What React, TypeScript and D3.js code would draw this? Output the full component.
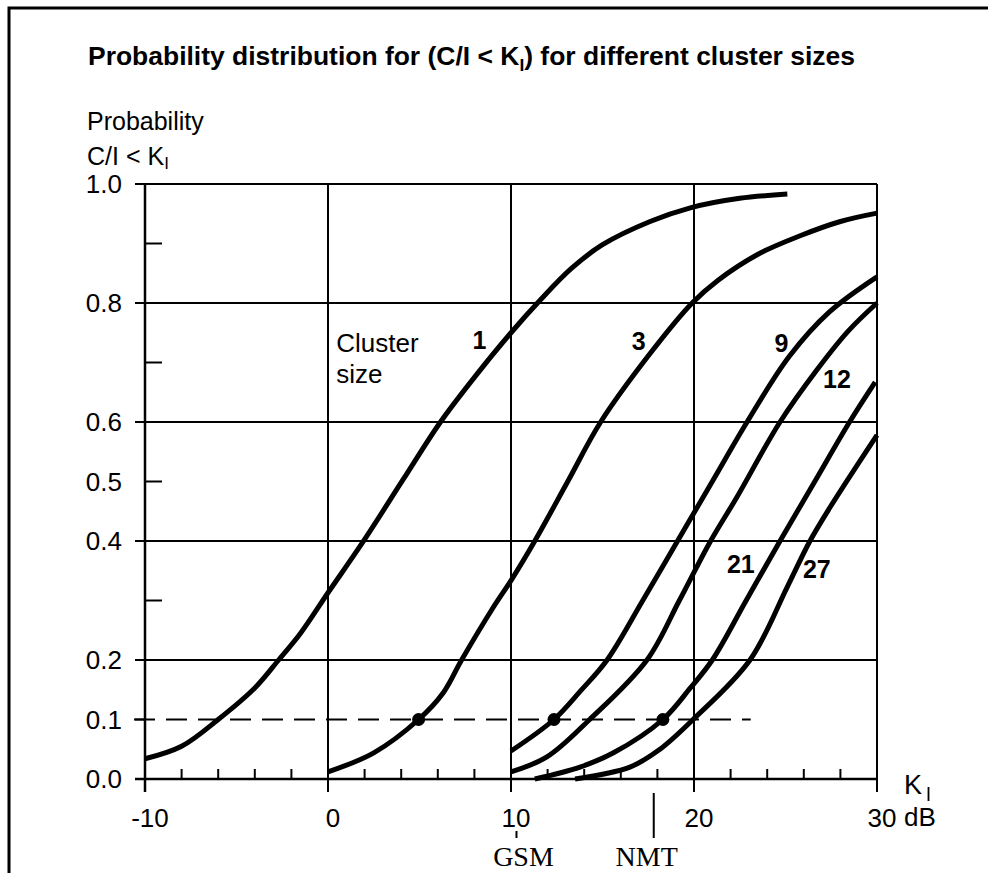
import React from 'react';
import * as d3 from 'd3';

const W = 988;
const H = 873;

// K_I (dB) ticks
const xMajorTicks = [-10, 0, 10, 20, 30];
const xMinorTicks = [-8, -6, -4, -2, 2, 4, 6, 8, 12, 14, 16, 18, 22, 24, 26, 28];
// probability ticks
const yLabels = [0.0, 0.1, 0.2, 0.4, 0.5, 0.6, 0.8, 1.0];
const yGrid = [0.2, 0.4, 0.6, 0.8, 1.0];
const yOuterTicks = [0.0, 0.1, 0.2, 0.4, 0.6, 0.8, 1.0];
const yInnerTicks = [0.3, 0.5, 0.7, 0.9];

// curves: [K_I dB, probability C/I < K_I]
const cluster1 = [
  [-10, 0.034], [-8, 0.055], [-6, 0.1], [-4, 0.153], [-2.7, 0.2], [-1.5, 0.245],
  [0, 0.313], [1.9, 0.398], [4.1, 0.503], [6.1, 0.598], [8, 0.675], [10, 0.75],
  [11.6, 0.805], [13.3, 0.858], [15, 0.898], [17.6, 0.937], [19.8, 0.96],
  [22.5, 0.976], [25.1, 0.983],
];
const cluster3 = [
  [0, 0.012], [2.5, 0.044], [4.95, 0.1], [6.3, 0.145], [7.3, 0.2], [9, 0.287],
  [10.05, 0.336], [11.3, 0.4], [13.1, 0.5], [14.9, 0.6], [17.6, 0.715],
  [19.9, 0.8], [21.3, 0.838], [23.5, 0.882], [25.8, 0.913], [28, 0.937], [30, 0.951],
];
const cluster9 = [
  [10, 0.047], [12.35, 0.1], [13.8, 0.148], [15.25, 0.2], [17.2, 0.3], [19.1, 0.4],
  [21, 0.5], [22.9, 0.6], [25.2, 0.71], [27.4, 0.785], [30, 0.844],
];
const cluster12 = [
  [10, 0.012], [11.96, 0.037], [14.3, 0.1], [17.43, 0.2], [19.2, 0.3],
  [20.87, 0.398], [22.35, 0.474], [24.7, 0.6], [26.7, 0.687], [28.4, 0.752], [30, 0.8],
];
const cluster21 = [
  [11.3, 0.0], [13.77, 0.02], [15.6, 0.044], [18.3, 0.1], [19.8, 0.153], [21, 0.2],
  [22.85, 0.3], [24.7, 0.4], [26.6, 0.5], [28.5, 0.6], [29.9, 0.667],
];
const cluster27 = [
  [13.5, 0.0], [16.5, 0.02], [18.1, 0.049], [19.95, 0.1], [23.06, 0.2], [25.1, 0.323],
  [26.3, 0.398], [27.4, 0.455], [30, 0.578],
];
const curves = [cluster1, cluster3, cluster9, cluster12, cluster21, cluster27];

// curve labels: text, K_I, probability
const curveLabels = [
  { text: '1', db: 7.9, p: 0.723 },
  { text: '3', db: 16.6, p: 0.721 },
  { text: '9', db: 24.4, p: 0.718 },
  { text: '12', db: 27.05, p: 0.657 },
  { text: '21', db: 21.8, p: 0.346 },
  { text: '27', db: 25.95, p: 0.338 },
];

// 10% level and where each system meets it
const threshold = 0.1;
const thresholdRange = [-10.6, 23.1];
const thresholdDots = [4.95, 12.35, 18.3];
const systems = [
  { name: 'GSM', db: 10.3 },
  { name: 'NMT', db: 17.8 },
];

const x = d3.scaleLinear().domain([-10, 30]).range([145, 877]);
const y = d3.scaleLinear().domain([0, 1]).range([779, 184]);

const line = d3
  .line<number[]>()
  .x((d) => x(d[0]))
  .y((d) => y(d[1]))
  .curve(d3.curveCatmullRom.alpha(0.5));

const sans = 'Liberation Sans, Arial, Helvetica, sans-serif';

export default function App() {
  const axisBottom = y(0);
  return (
    <svg
      width={W}
      height={H}
      style={{ position: 'absolute', left: 0, top: 0, background: '#fff' }}
      fontFamily={sans}
    >
      <rect x={0} y={0} width={W} height={H} fill="#fff" />
      {/* frame */}
      <path d={`M9,${H} L9,8 L${W},8`} fill="none" stroke="#000" strokeWidth={3} />

      <text x={88} y={65} fontSize={26} fontWeight="bold" textLength={767} lengthAdjust="spacingAndGlyphs">
        Probability distribution for (C/I &lt; K<tspan fontSize={17} dy={6}>I</tspan><tspan dy={-6}>) for different cluster sizes</tspan>
      </text>

      <text x={87} y={130} fontSize={25}>Probability</text>
      <text x={87} y={165} fontSize={25}>
        C/I &lt; K<tspan fontSize={17} dy={4}>I</tspan>
      </text>

      {/* horizontal grid */}
      {yGrid.map((v) => (
        <line key={'hg' + v} x1={x(-10)} x2={x(30)} y1={y(v)} y2={y(v)} stroke="#000" strokeWidth={2} />
      ))}
      {/* vertical grid + major ticks */}
      {xMajorTicks.map((v) => (
        <line key={'vg' + v} x1={x(v)} x2={x(v)} y1={y(1)} y2={axisBottom + 13} stroke="#000" strokeWidth={v === -10 ? 2.5 : 2} />
      ))}
      {/* x axis */}
      <line x1={135} x2={x(30)} y1={axisBottom} y2={axisBottom} stroke="#000" strokeWidth={2.5} />
      {xMinorTicks.map((v) => (
        <line key={'xm' + v} x1={x(v)} x2={x(v)} y1={axisBottom} y2={axisBottom - 10} stroke="#000" strokeWidth={2} />
      ))}
      {/* y ticks */}
      {yOuterTicks.map((v) => (
        <line key={'yo' + v} x1={135} x2={x(-10)} y1={y(v)} y2={y(v)} stroke="#000" strokeWidth={2} />
      ))}
      {yInnerTicks.map((v) => (
        <line key={'yi' + v} x1={x(-10)} x2={x(-10) + 17} y1={y(v)} y2={y(v)} stroke="#000" strokeWidth={2} />
      ))}
      {yLabels.map((v) => (
        <text key={'yl' + v} x={122} y={y(v)} dy="0.36em" fontSize={26} textAnchor="end">
          {v.toFixed(1)}
        </text>
      ))}
      {xMajorTicks.map((v) => (
        <text key={'xl' + v} x={x(v) + 5} y={827} fontSize={26} textAnchor="middle">
          {v}
        </text>
      ))}
      <text x={904} y={826} fontSize={26}>dB</text>
      <text x={904} y={794} fontSize={27}>K</text>
      <line x1={928.5} x2={928.5} y1={787} y2={801} stroke="#000" strokeWidth={1.8} />

      {/* 10% threshold */}
      <line
        x1={x(thresholdRange[0])}
        x2={x(thresholdRange[1])}
        y1={y(threshold)}
        y2={y(threshold)}
        stroke="#000"
        strokeWidth={2}
        strokeDasharray="21 11"
      />

      {curves.map((c, i) => (
        <path key={'c' + i} d={line(c) || ''} fill="none" stroke="#000" strokeWidth={5} strokeLinecap="butt" />
      ))}
      {thresholdDots.map((v) => (
        <circle key={'d' + v} cx={x(v)} cy={y(threshold)} r={6.5} fill="#000" />
      ))}

      {curveLabels.map((l) => (
        <text key={'cl' + l.text} x={x(l.db)} y={y(l.p)} fontSize={25} fontWeight="bold">
          {l.text}
        </text>
      ))}
      <text x={x(0.45)} y={y(0.718)} fontSize={26}>Cluster</text>
      <text x={x(0.45)} y={y(0.666)} fontSize={26}>size</text>

      {systems.map((s, i) => (
        <g key={s.name}>
          <line
            x1={x(s.db)}
            x2={x(s.db)}
            y1={i === 0 ? 831 : axisBottom + 14}
            y2={838}
            stroke="#000"
            strokeWidth={2}
          />
          <text
            x={x(s.db) + (i === 0 ? 7 : -7)}
            y={866}
            fontSize={28}
            textAnchor="middle"
            fontFamily="Liberation Serif, Times New Roman, serif"
          >
            {s.name}
          </text>
        </g>
      ))}
    </svg>
  );
}
